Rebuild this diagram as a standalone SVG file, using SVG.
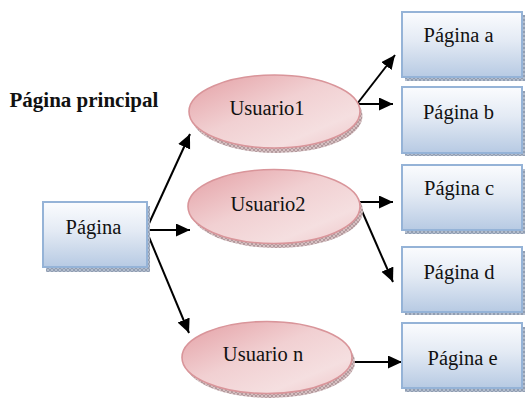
<svg xmlns="http://www.w3.org/2000/svg" width="525" height="403" viewBox="0 0 525 403">
  <defs>
    <style>
      .box { fill: url(#boxFill); stroke: #95b3d7; stroke-width: 2; }
      .boxShadow { fill: url(#hatchBlue); }
      .user { fill: url(#userFill); stroke: #d9959a; stroke-width: 1.6; }
      .userShadow { fill: url(#hatchPink); }
      .label { font-family: "Liberation Serif", "Times New Roman", serif; font-size: 20.5px; fill: #111; text-anchor: middle; }
      .title { font-family: "Liberation Serif", "Times New Roman", serif; font-size: 21px; font-weight: bold; fill: #111; }
      .link { fill: none; stroke: #000; stroke-width: 2; marker-end: url(#arrow); }
    </style>
    <linearGradient id="boxFill" x1="0" y1="0" x2="0" y2="1">
      <stop offset="0" stop-color="#fbfcfe"/>
      <stop offset="0.45" stop-color="#e3eaf4"/>
      <stop offset="1" stop-color="#b7cae3"/>
    </linearGradient>
    <linearGradient id="userFill" x1="0" y1="0" x2="1" y2="1">
      <stop offset="0" stop-color="#e49fa4"/>
      <stop offset="0.45" stop-color="#f1d0d2"/>
      <stop offset="0.75" stop-color="#f5dfe0"/>
      <stop offset="1" stop-color="#eec5c8"/>
    </linearGradient>
    <pattern id="hatchBlue" width="4" height="4" patternUnits="userSpaceOnUse">
      <rect width="4" height="4" fill="#b3bdcd"/>
      <path d="M0,0 L4,4 M4,0 L0,4" stroke="#8390a6" stroke-width="0.7"/>
    </pattern>
    <pattern id="hatchPink" width="4" height="4" patternUnits="userSpaceOnUse">
      <rect width="4" height="4" fill="#d6c0c2"/>
      <path d="M0,0 L4,4 M4,0 L0,4" stroke="#a38a8c" stroke-width="0.7"/>
    </pattern>
    <marker id="arrow" markerUnits="userSpaceOnUse" markerWidth="15" markerHeight="14" refX="14" refY="6.5" orient="auto">
      <path d="M0,0 L14,6.5 L0,13 z" fill="#000"/>
    </marker>
  </defs>

  <rect width="525" height="403" fill="#fff"/>

  <text class="title" x="9.5" y="107">Página principal</text>

  <!-- connectors -->
  <g id="connectors">
    <path class="link" d="M146,230 L190,134"/>
    <path class="link" d="M146,230 L190,230"/>
    <path class="link" d="M146,230 L189,333"/>
    <path class="link" d="M357,104 L395,55"/>
    <path class="link" d="M357,104 L393,104"/>
    <path class="link" d="M358,202 L393,202"/>
    <path class="link" d="M358,202 L393,282"/>
    <path class="link" d="M350,362 L402,362"/>
  </g>

  <!-- root page -->
  <g id="pagina">
    <rect class="boxShadow" x="46" y="206" width="104" height="66"/>
    <rect class="box" x="43" y="202" width="104" height="65"/>
    <text class="label" x="93.5" y="233.5">Página</text>
  </g>

  <!-- user ellipses -->
  <g id="usuario1">
    <ellipse class="userShadow" cx="277" cy="116" rx="85.5" ry="37"/>
    <ellipse class="user" cx="274.5" cy="111.5" rx="85.5" ry="36.5"/>
    <text class="label" x="267" y="115">Usuario1</text>
  </g>
  <g id="usuario2">
    <ellipse class="userShadow" cx="277" cy="211" rx="86" ry="37"/>
    <ellipse class="user" cx="274" cy="206.5" rx="86" ry="37"/>
    <text class="label" x="268" y="211">Usuario2</text>
  </g>
  <g id="usuario-n">
    <ellipse class="userShadow" cx="270" cy="362" rx="85" ry="36"/>
    <ellipse class="user" cx="267" cy="357.5" rx="85" ry="36"/>
    <text class="label" x="263" y="360.5">Usuario n</text>
  </g>

  <!-- destination pages -->
  <g id="pagina-a">
    <rect class="boxShadow" x="405" y="15" width="120" height="66"/>
    <rect class="box" x="402" y="12" width="120" height="65"/>
    <text class="label" x="458.5" y="42">Página a</text>
  </g>
  <g id="pagina-b">
    <rect class="boxShadow" x="405" y="91" width="120" height="65"/>
    <rect class="box" x="402" y="87" width="120" height="66"/>
    <text class="label" x="458.5" y="118.5">Página b</text>
  </g>
  <g id="pagina-c">
    <rect class="boxShadow" x="405" y="169" width="120" height="65"/>
    <rect class="box" x="402" y="165" width="120" height="65"/>
    <text class="label" x="459" y="195">Página c</text>
  </g>
  <g id="pagina-d">
    <rect class="boxShadow" x="405" y="251" width="120" height="64"/>
    <rect class="box" x="402" y="247" width="120" height="65"/>
    <text class="label" x="459" y="278.5">Página d</text>
  </g>
  <g id="pagina-e">
    <rect class="boxShadow" x="405" y="327" width="120" height="65"/>
    <rect class="box" x="402" y="323" width="120" height="65"/>
    <text class="label" x="462.5" y="364.5">Página e</text>
  </g>
</svg>
